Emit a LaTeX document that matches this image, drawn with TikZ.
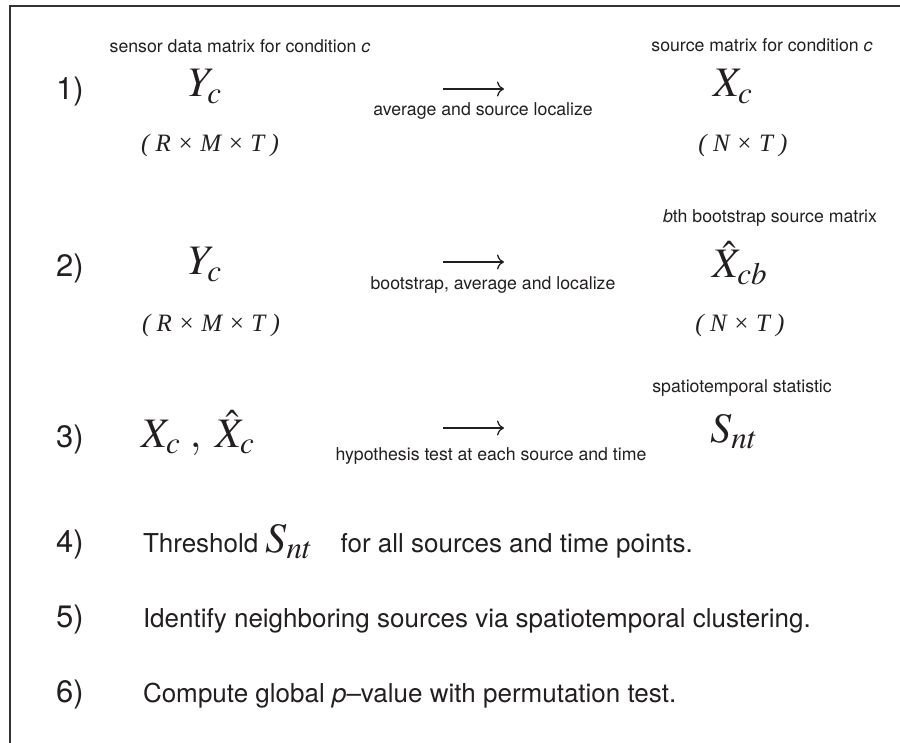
\documentclass[tikz,border=0pt]{standalone}
\usepackage{mathptmx}
\usepackage[no-math]{fontspec}
\setmainfont{TeX Gyre Heros}
\newfontfamily\serifit{Liberation Serif}
\usetikzlibrary{arrows.meta,positioning}
\definecolor{frameGray}{HTML}{333333}
\definecolor{inkBlack}{HTML}{231F20}
\newcommand{\numsz}{\fontsize{31}{34}\selectfont}
\newcommand{\symsz}{\fontsize{42}{46}\selectfont}
\newcommand{\dimsz}{\fontsize{25}{28}\selectfont\serifit\itshape}
\newcommand{\notesz}{\fontsize{17.7}{20}\selectfont}
\newcommand{\textsz}{\fontsize{26}{30}\selectfont}

\begin{document}
\begin{tikzpicture}[x=1pt, y=-1pt, inner sep=0pt, outer sep=0pt, inkBlack,
    num/.style={anchor=base, font=\numsz},
    sym/.style={anchor=base, font=\symsz},
    dims/.style={anchor=base, font=\dimsz},
    note/.style={anchor=base, font=\notesz},
    steptext/.style={anchor=base west, font=\textsz},
    flow/.style={-{Computer Modern Rightarrow[length=7pt,width=15pt]}, line width=1.3pt}]
    \useasboundingbox (0,0) rectangle (900,743);
    \draw[frameGray, line width=2pt] (10,743) -- (10,6) -- (900,6);

    % 1) average and localize
    \node[num] (One) at (70,100) {1)};
    \node[sym] (SensorY) at (205,97) {$Y_c$};
    \node[note] (SensorNote) at (240,53) {sensor data matrix for condition \textit{c}};
    \node[dims] (SensorDim) at (210,152) {( R × M × T )};
    \coordinate (AvgFrom) at (443,89);
    \coordinate (AvgTo) at (504,89);
    \draw[flow] (AvgFrom) -- (AvgTo);
    \node[note] (AvgNote) at (483,116) {average and source localize};
    \node[sym] (SourceX) at (733,97) {$X_c$};
    \node[note] (SourceNote) at (762,52) {source matrix for condition \textit{c}};
    \node[dims] (SourceDim) at (743,152) {( N × T )};

    % 2) bootstrap
    \node[num] (Two) at (70,277) {2)};
    \node[sym] (BootY) at (205,275) {$Y_c$};
    \node[dims] (BootYDim) at (211,332) {( R × M × T )};
    \coordinate (BootFrom) at (443,262);
    \coordinate (BootTo) at (504,262);
    \draw[flow] (BootFrom) -- (BootTo);
    \node[note] (BootNote) at (493,290) {bootstrap, average and localize};
    \node[sym] (BootX) at (740,278) {$\hat{X}_{cb}$};
    \node[note] (BootXNote) at (770,223) {\textit{b}th bootstrap source matrix};
    \node[dims] (BootXDim) at (740,332) {( N × T )};

    % 3) hypothesis test
    \node[num] (Three) at (70,447) {3)};
    \node[sym] (Pair) at (198,447) {$X_c\;,\;\hat{X}_c$};
    \coordinate (TestFrom) at (443,428);
    \coordinate (TestTo) at (504,428);
    \draw[flow] (TestFrom) -- (TestTo);
    \node[note] (TestNote) at (491,460) {hypothesis test at each source and time};
    \node[sym] (Stat) at (734,442) {$S_{nt}$};
    \node[note] (StatNote) at (742,392) {spatiotemporal statistic};

    % 4) - 6)
    \node[num] (Four) at (70,552) {4)};
    \node[steptext] (Thresh) at (143,552) {Threshold {\symsz$S_{nt}$}\hspace{28pt}for all sources and time points.};
    \node[num] (Five) at (70,627) {5)};
    \node[steptext] (Cluster) at (143,627) {Identify neighboring sources via spatiotemporal clustering.};
    \node[num] (Six) at (70,702) {6)};
    \node[steptext] (Perm) at (143,702) {Compute global \textit{p}–value with permutation test.};
\end{tikzpicture}
\end{document}
